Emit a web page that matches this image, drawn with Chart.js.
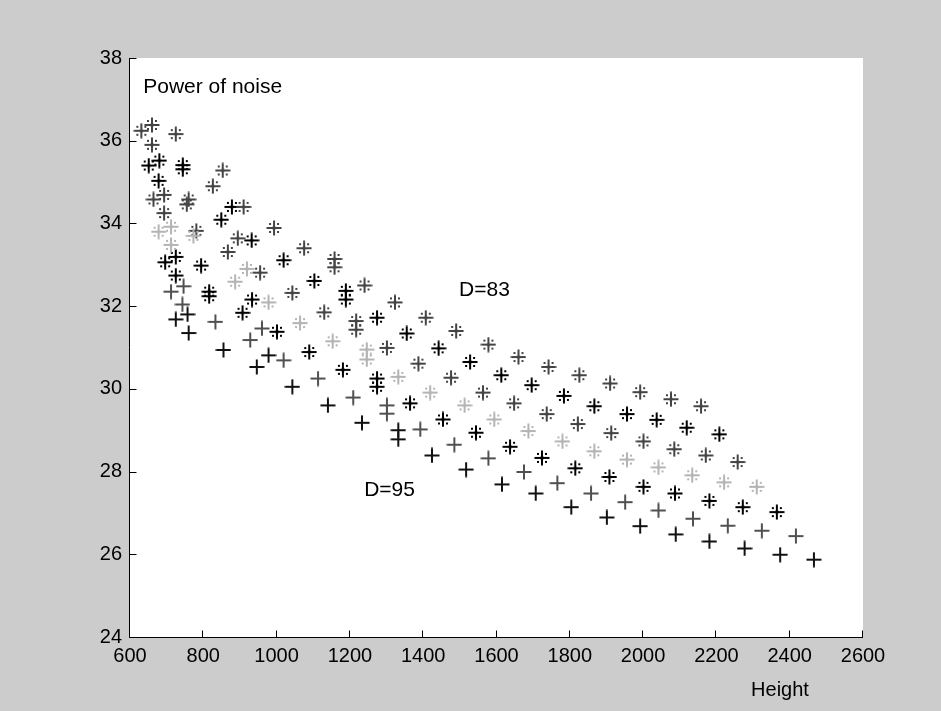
<!DOCTYPE html>
<html><head><meta charset="utf-8">
<script src="https://cdn.jsdelivr.net/npm/chart.js@4/dist/chart.umd.min.js"></script>
<style>html,body{margin:0;padding:0;background:#cccccc;overflow:hidden}#wrap{width:941px;height:711px;position:relative}</style>
</head><body><div id="wrap"><canvas id="c" width="941" height="711"></canvas></div>
<script>
// ---- data (Height, Power of noise) ----
const darkStarH = [631,660,725,660,853,826,664,693,760,755,693,910,781,894,867,993,1075,1158,1158,955,1240,1043,1323,1130,1217,1217,1407,1490,1301,1578,1387,1660,1476,1742,1826,1910,1992,2076,2158,1563,1648,1737,1822,1913,2001,2085,2171,2258];
const darkStarP = [36.24,36.38,36.16,35.90,35.28,34.90,34.58,34.69,34.58,34.46,34.25,34.40,33.82,33.64,33.31,33.89,33.40,33.14,32.94,32.81,32.50,32.32,32.09,31.85,31.64,31.43,31.72,31.40,30.99,31.07,30.61,30.77,30.27,30.53,30.33,30.13,29.92,29.75,29.58,29.91,29.65,29.39,29.15,28.93,28.73,28.54,28.39,28.23];

const blackStarH = [651,680,744,744,678,878,849,932,696,725,794,1019,725,816,816,1103,933,907,1189,1189,1001,1274,1089,1355,1181,1442,1274,1274,1528,1364,1613,1454,1696,1544,1784,1637,1867,1724,1956,1815,2037,1908,2119,2001,2208,2087,2181,2272,2365];
const blackStarP = [35.40,35.52,35.41,35.31,35.03,34.40,34.09,33.59,33.06,33.19,32.98,33.11,32.74,32.35,32.24,32.61,32.16,31.84,32.37,32.16,31.38,31.72,30.89,31.34,30.46,30.98,30.25,30.05,30.65,29.65,30.33,29.26,30.09,28.94,29.83,28.60,29.58,28.33,29.39,28.08,29.25,27.87,29.06,27.63,28.90,27.47,27.29,27.14,27.02];

const lightStarH = [678,712,773,712,919,887,978,1064,1153,1246,1246,1332,1419,1513,1594,1687,1780,1867,1956,2042,2134,2221,2310];
const lightStarP = [33.80,33.92,33.70,33.48,32.90,32.59,32.09,31.59,31.15,30.95,30.71,30.29,29.91,29.60,29.26,28.98,28.73,28.49,28.29,28.10,27.91,27.74,27.63];

const grayPlusH = [743,833,928,1019,1113,1209,1301,1392,1485,1578,1675,1766,1858,1951,2042,2136,2231,2324,2417,712,746,960,1301];
const grayPlusP = [32.04,31.62,31.18,30.69,30.25,29.79,29.40,29.02,28.65,28.32,27.99,27.72,27.47,27.26,27.06,26.86,26.69,26.57,26.44,32.35,32.48,31.46,29.60];

const blackPlusH = [760,855,946,978,1043,1140,1233,1332,1424,1517,1615,1707,1804,1901,1992,2089,2181,2277,2374,2466,725,757,1332];
const blackPlusP = [31.35,30.94,30.53,30.81,30.05,29.60,29.18,28.78,28.39,28.05,27.69,27.47,27.14,26.89,26.68,26.48,26.31,26.14,25.99,25.87,31.68,31.80,29.00];

const xTicks = [600,800,1000,1200,1400,1600,1800,2000,2200,2400,2600];
const yTicks = [24,26,28,30,32,34,36,38];

const xLabel = 'Height';
const notes = [
  {text:'Power of noise', x:636, y:37.30},
  {text:'D=83', x:1498, y:32.39},
  {text:'D=95', x:1239, y:27.55}
];

// ---- markers ----
function makeMarker(type, color){
  const c = document.createElement('canvas');
  c.width = 16; c.height = 16;
  const g = c.getContext('2d');
  g.fillStyle = color;
  g.fillRect(7, 0.5, 2, 15);
  g.fillRect(0.5, 7, 15, 2);
  if (type === 'star'){
    g.fillRect(6.5, 6.5, 3, 3);
    [[-1,-1],[1,-1],[-1,1],[1,1]].forEach(([dx,dy])=>{
      g.fillRect(8 + dx*4 - 1, 8 + dy*4 - 1, 2, 2);
    });
  }
  return c;
}
function pts(h,p){ return h.map((v,i)=>({x:v,y:p[i]})); }

const FONT = 'Liberation Sans, Arial, Helvetica, sans-serif';

const bgPlugin = {
  id:'bg',
  beforeDraw(chart){
    const {ctx, chartArea:a} = chart;
    ctx.save();
    ctx.fillStyle = '#cccccc';
    ctx.fillRect(0,0,chart.width,chart.height);
    ctx.fillStyle = '#ffffff';
    ctx.fillRect(a.left, a.top, a.right-a.left, a.bottom-a.top);
    ctx.restore();
  },
  afterDraw(chart){
    const {ctx, chartArea:a, scales:{x,y}} = chart;
    ctx.save();
    ctx.strokeStyle = '#000';
    ctx.lineWidth = 1;
    ctx.beginPath();
    const L = Math.round(a.left)-0.5, B = Math.round(a.bottom)+0.5;
    ctx.moveTo(L, a.top); ctx.lineTo(L, B); ctx.lineTo(a.right, B);
    const tl = 7;
    xTicks.forEach(v=>{ const px = Math.round(x.getPixelForValue(v))-0.5; ctx.moveTo(px,B); ctx.lineTo(px,B-tl); });
    yTicks.forEach(v=>{ const py = Math.round(y.getPixelForValue(v))+0.5; ctx.moveTo(L,py); ctx.lineTo(L+tl,py); });
    ctx.stroke();
    ctx.fillStyle = '#000';
    ctx.font = '21px ' + FONT;
    ctx.textBaseline = 'middle';
    ctx.textAlign = 'left';
    notes.forEach(n=>{ ctx.fillText(n.text, x.getPixelForValue(n.x), y.getPixelForValue(n.y)); });
    ctx.font = '20px ' + FONT;
    ctx.textAlign = 'center';
    ctx.fillText(xLabel, 780, 690);
    ctx.restore();
  }
};

new Chart(document.getElementById('c'), {
  type:'scatter',
  data:{ datasets:[
    {data:pts(grayPlusH,grayPlusP), pointStyle:makeMarker('plus','#505050')},
    {data:pts(blackPlusH,blackPlusP), pointStyle:makeMarker('plus','#111111')},
    {data:pts(lightStarH,lightStarP), pointStyle:makeMarker('star','#b4b4b4')},
    {data:pts(darkStarH,darkStarP), pointStyle:makeMarker('star','#444444')},
    {data:pts(blackStarH,blackStarP), pointStyle:makeMarker('star','#000000')}
  ]},
  options:{
    responsive:false, animation:false, devicePixelRatio:1,
    events:[],
    layout:{padding:{left:0, right:78, top:58, bottom:0}},
    plugins:{legend:{display:false}, tooltip:{enabled:false}},
    scales:{
      x:{type:'linear', min:600, max:2600,
         grid:{display:false, drawTicks:false}, border:{display:false},
         ticks:{stepSize:200, color:'#000', padding:7, maxRotation:0, autoSkip:false, font:{family:FONT, size:20},
                callback:(v)=>String(v)},
         afterFit(s){ s.height = 74; }},
      y:{type:'linear', min:24, max:38,
         grid:{display:false, drawTicks:false}, border:{display:false},
         ticks:{stepSize:2, color:'#000', padding:8, font:{family:FONT, size:20},
                callback:(v)=>String(v)},
         afterFit(s){ s.width = 130; }}
    }
  },
  plugins:[bgPlugin]
});
</script></body></html>
